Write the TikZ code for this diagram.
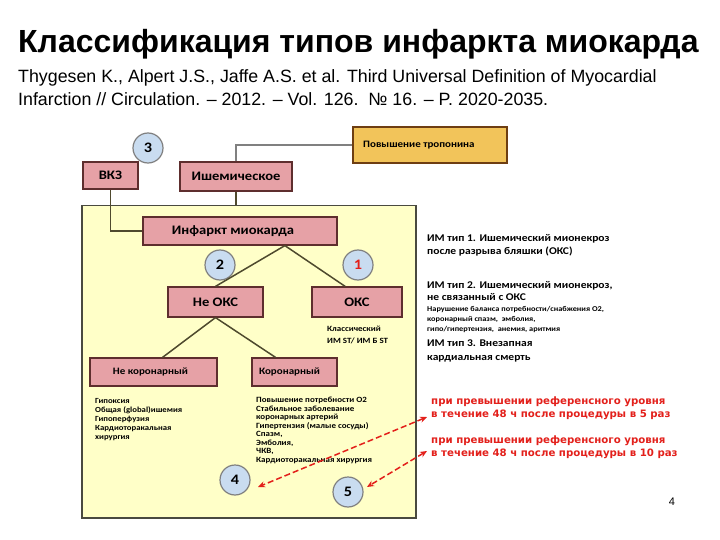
\documentclass[tikz,border=0pt]{standalone}
\usepackage{fontspec}
\setmainfont{Liberation Sans}
\newfontfamily\calib[FakeStretch=1.12]{Carlito}
\newfontfamily\redfont{DejaVu Sans}
\usetikzlibrary{calc,arrows.meta}
\definecolor{pinkfill}{HTML}{E6A1A6}
\definecolor{pinkline}{HTML}{5E2E2E}
\definecolor{tropfill}{HTML}{F2C45A}
\definecolor{tropline}{HTML}{6E3E12}
\definecolor{yelfill}{HTML}{FFFFC8}
\definecolor{yelline}{HTML}{4A4A40}
\definecolor{circfill}{HTML}{C9DCF0}
\definecolor{circline}{HTML}{808080}
\definecolor{conn}{HTML}{4F4A2E}
\definecolor{redtxt}{HTML}{E3201B}
\begin{document}
\begin{tikzpicture}[x=1pt,y=-1pt,
  pinkbox/.style={draw=pinkline, fill=pinkfill, line width=1.2pt, inner sep=0pt,
    font=\calib\bfseries\fontsize{13}{15}\selectfont},
  smallbox/.style={pinkbox, font=\calib\bfseries\fontsize{9.8}{11}\selectfont},
  numcirc/.style={circle, draw=circline, fill=circfill, line width=1.2pt,
    minimum size=30pt, inner sep=0pt, font=\calib\bfseries\fontsize{14.5}{16}\selectfont},
  link/.style={draw=conn, line width=1.5pt},
  txt/.style={anchor=north west, inner sep=0pt, align=left},
  redarrow/.style={draw=redtxt, line width=1.5pt, dashed, dash pattern=on 6pt off 3pt,
    {Stealth[length=7pt,width=6pt]}-{Stealth[length=7pt,width=6pt]}}
]
\useasboundingbox (0,0) rectangle (720,540);
\fill[white] (0,0) rectangle (720,540);

% title and citation
\node[anchor=base west, inner sep=0pt, font=\bfseries\fontsize{32}{36}\selectfont] (title) at (18,53)
  {Классификация типов инфаркта миокарда};
\node[anchor=base west, inner sep=0pt, font=\fontsize{17.8}{20}\selectfont] (cite1) at (18,83)
  {Thygesen K., Alpert J.S., Jaffe A.S. et al. Third Universal Definition of Myocardial};
\node[anchor=base west, inner sep=0pt, font=\fontsize{17.8}{20}\selectfont] (cite2) at (18,106)
  {Infarction // Circulation. – 2012. – Vol. 126.\ \ № 16. – P. 2020-2035.};

% yellow panel
\node[draw=yelline, fill=yelfill, line width=1.5pt, minimum width=334pt, minimum height=312pt,
  inner sep=0pt, anchor=north west] (bg) at (81,205) {};

% boxes
\node[pinkbox, minimum width=55pt, minimum height=27pt] (vkz) at (110.5,175.5) {ВКЗ};
\node[pinkbox, minimum width=112pt, minimum height=29pt] (ish) at (236,176.5) {Ишемическое};
\node[draw=tropline, fill=tropfill, line width=1.5pt, minimum width=154pt, minimum height=36pt,
  inner sep=0pt] (trop) at (430,145) {};
\node[anchor=west, inner sep=0pt, font=\calib\bfseries\fontsize{9.8}{11}\selectfont] (troptxt) at (363,145) {Повышение тропонина};
\node[pinkbox, minimum width=194pt, minimum height=28pt] (inf) at (240,231) {\hspace*{-14pt}Инфаркт миокарда};
\node[pinkbox, minimum width=95pt, minimum height=30pt] (neoks) at (215.5,302) {Не ОКС};
\node[pinkbox, minimum width=90pt, minimum height=30pt] (oks) at (357,302) {ОКС};
\node[smallbox, minimum width=127pt, minimum height=28pt] (nekor) at (153.5,372) {\hspace*{-6pt}Не коронарный};
\node[smallbox, minimum width=85pt, minimum height=28pt] (kor) at (294.5,372) {\hspace*{-10pt}Коронарный};

% circles
\node[numcirc] (c3) at (148,148) {3};
\node[numcirc] (c2) at (220,265) {2};
\node[numcirc, text=redtxt] (c1) at (358,265) {1};
\node[numcirc] (c4) at (235,480) {4};
\node[numcirc] (c5) at (348,492) {5};

% connectors
\draw[draw=gray, line width=1.2pt] (ish.north) |- (trop.west);
\draw[link] (ish.south) -- (ish.south |- bg.north);
\draw[link] (vkz.south) |- (inf.west);
\coordinate (apex) at ($(inf.south west)!0.73!(inf.south east)$);
\coordinate (oksin) at ($(oks.north west)!0.37!(oks.north east)$);
\draw[link] (apex) -- (neoks.north);
\draw[link] (apex) -- (oksin);
\coordinate (nekin) at ($(nekor.north west)!0.57!(nekor.north east)$);
\coordinate (korin) at ($(kor.north west)!0.28!(kor.north east)$);
\draw[link] (neoks.south) -- (nekin);
\draw[link] (neoks.south) -- (korin);

% small texts in panel
\node[txt, font=\calib\bfseries\fontsize{8}{12}\selectfont] (okscap) at (327,326)
  {Классический\\ИМ ST/ ИМ Б ST};
\node[txt, font=\calib\bfseries\fontsize{7.8}{9}\selectfont] (leftlist) at (95,398)
  {Гипоксия\\Общая (global)ишемия\\Гипоперфузия\\Кардиоторакальная\\хирургия};
\node[txt, font=\calib\bfseries\fontsize{8}{8.5}\selectfont] (rightlist) at (256,397)
  {Повышение потребности О2\\Стабильное заболевание\\коронарных артерий\\Гипертензия (малые сосуды)\\Спазм,\\Эмболия,\\ЧКВ,\\Кардиоторакальная хирургия};

% right texts
\node[txt, font=\calib\bfseries\fontsize{10.3}{13.5}\selectfont] (t1) at (427,234)
  {ИМ тип 1. Ишемический мионекроз\\после разрыва бляшки (ОКС)};
\node[txt, font=\calib\bfseries\fontsize{10.3}{12.5}\selectfont] (t2) at (427,281)
  {ИМ тип 2. Ишемический мионекроз,\\не связанный с ОКС};
\node[txt, font=\calib\bfseries\fontsize{7.4}{10}\selectfont] (t2s) at (427,306)
  {Нарушение баланса потребности/снабжения О2,\\коронарный спазм,\ \ эмболия,\\гипо/гипертензия,\ \ анемия, аритмия};
\node[txt, font=\calib\bfseries\fontsize{10.3}{14}\selectfont] (t3) at (427,340)
  {ИМ тип 3. Внезапная\\кардиальная смерть};

% red texts
\node[txt, text=redtxt, font=\redfont\bfseries\fontsize{10.2}{13}\selectfont] (red1) at (431,397)
  {при превышении референсного уровня\\в течение 48 ч после процедуры в 5 раз};
\node[txt, text=redtxt, font=\redfont\bfseries\fontsize{10.2}{13}\selectfont] (red2) at (431,436)
  {при превышении референсного уровня\\в течение 48 ч после процедуры в 10 раз};

% red arrows
\coordinate (r1) at (427,417);
\coordinate (e4) at (258,487);
\coordinate (r2) at (427,451);
\coordinate (e5) at (367,487);
\draw[redarrow] (r1) -- (e4);
\draw[redarrow] (r2) -- (e5);

% page number
\node[inner sep=0pt, font=\fontsize{11}{13}\selectfont] (pnum) at (672,502) {4};
\end{tikzpicture}
\end{document}
